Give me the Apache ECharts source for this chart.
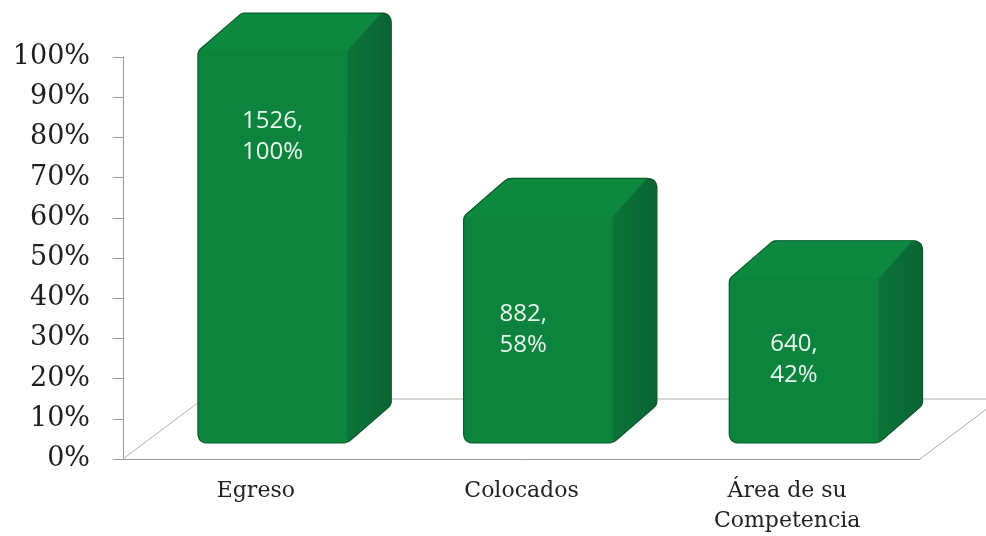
<!DOCTYPE html>
<html><head><meta charset="utf-8">
<script src="https://cdn.jsdelivr.net/npm/echarts@6/dist/echarts.min.js"></script>
<style>html,body{margin:0;padding:0;background:#fff}#c{width:986px;height:536px}</style>
</head><body><div id="c"></div>
<script>
// ---- data ----
const categories = ['Egreso', 'Colocados', 'Área de su\nCompetencia'];
const counts = [1526, 882, 640];
const percents = [100, 57.8, 41.9];
const percentLabels = ['100%', '58%', '42%'];

// ---- styles ----
const labelShift = [[0, -110], [-15, 0], [-10, -1]];
const FRONT = '#0c843e';
const TOP = '#0e8940';
const SIDE_A = '#0b7439';
const SIDE_B = '#096433';
const EDGE = '#0a5a2d';
const DEPTH = [44, -38];
const FLOOR_DEPTH = [80, -60];
const SEG = 8;

function roundPoly(pts, rs) {
  const out = [];
  const n = pts.length;
  for (let k = 0; k < n; k++) {
    const p = pts[k], prev = pts[(k - 1 + n) % n], next = pts[(k + 1) % n];
    const r = rs[k];
    const v1 = [prev[0] - p[0], prev[1] - p[1]], l1 = Math.hypot(v1[0], v1[1]);
    const v2 = [next[0] - p[0], next[1] - p[1]], l2 = Math.hypot(v2[0], v2[1]);
    const r1 = Math.min(r, l1 / 2), r2 = Math.min(r, l2 / 2);
    const a = [p[0] + v1[0] / l1 * r1, p[1] + v1[1] / l1 * r1];
    const b = [p[0] + v2[0] / l2 * r2, p[1] + v2[1] / l2 * r2];
    for (let s = 0; s <= SEG; s++) {
      const t = s / SEG;
      const x = (1 - t) * (1 - t) * a[0] + 2 * (1 - t) * t * p[0] + t * t * b[0];
      const y = (1 - t) * (1 - t) * a[1] + 2 * (1 - t) * t * p[1] + t * t * b[1];
      out.push([x, y]);
    }
  }
  return out;
}

function renderBar(params, api) {
  const i = api.value(0), v = api.value(1);
  const c0 = api.coord([i, 0]), cv = api.coord([i, v]);
  const bw = api.size([1, 0])[0];
  const catLeft = c0[0] - bw / 2;
  const fl = catLeft + bw * 0.282;
  const fr = fl + bw * 0.562;
  const fb = c0[1] - 16;
  const ft = fb + (cv[1] - c0[1]) * 0.975;
  const dx = DEPTH[0], dy = DEPTH[1];
  const A = [fl, fb], B = [fl, ft], C = [fl + dx, ft + dy], D = [fr + dx, ft + dy], E = [fr + dx, fb + dy], F = [fr, fb];
  const rs = [10, 4, 4, 10, 4, 5];
  const sil = roundPoly([A, B, C, D, E, F], rs);
  const per = SEG + 1;
  // side face: D arc, E arc, first half of F arc, then front top-right corner
  const side = sil.slice(3 * per, 5 * per + Math.floor(per / 2) + 1).concat([[fr, ft]]);
  const top = [[fl + 2, ft], [fl + dx, ft + dy], [fr + dx - 8, ft + dy], [fr, ft]];
  const shift = labelShift[i] || [0, 0];
  return {
    type: 'group',
    children: [
      { type: 'polygon', shape: { points: sil }, style: { fill: FRONT, stroke: null } },
      { type: 'polygon', shape: { points: top }, style: { fill: TOP, stroke: null } },
      { type: 'polygon', shape: { points: side }, style: {
          fill: new echarts.graphic.LinearGradient(0, 0, 1, 0, [
            { offset: 0, color: SIDE_A }, { offset: 1, color: SIDE_B }]),
          stroke: null } },
      { type: 'polygon', shape: { points: sil }, style: { fill: null, stroke: EDGE, lineWidth: 1.2 } },
      { type: 'text', style: {
          text: counts[i] + ',\n' + percentLabels[i],
          x: (fl + fr) / 2 + shift[0], y: (ft + fb) / 2 + shift[1],
          align: 'center', verticalAlign: 'middle',
          fill: '#e9f5ec', font: '24px "Open Sans"', lineHeight: 31 } }
    ]
  };
}

function renderFloor(params, api) {
  const cs = params.coordSys;
  const x0 = cs.x, x1 = cs.x + cs.width, yb = cs.y + cs.height;
  const fx = FLOOR_DEPTH[0], fy = FLOOR_DEPTH[1];
  const st = { stroke: '#b0b0b0', lineWidth: 1, fill: null };
  return {
    type: 'group',
    children: [
      { type: 'polyline', shape: { points: [[x0, yb], [x0 + fx, yb + fy], [x1 + fx, yb + fy], [x1, yb]] }, style: st }
    ]
  };
}

const chart = echarts.init(document.getElementById('c'), null, { renderer: 'canvas' });
chart.setOption({
  backgroundColor: '#fff',
  animation: false,
  grid: { left: 123, right: 66, top: 57, bottom: 77, containLabel: false },
  xAxis: {
    type: 'category', data: categories, boundaryGap: true,
    axisLine: { lineStyle: { color: '#999', width: 1 } },
    axisTick: { length: 7, lineStyle: { color: '#999' } },
    axisLabel: { fontFamily: 'DejaVu Serif', fontSize: 22, color: '#222', lineHeight: 30, margin: 17 }
  },
  yAxis: {
    type: 'value', min: 0, max: 100, interval: 10,
    axisLine: { show: true, lineStyle: { color: '#999', width: 1 } },
    axisTick: { show: true, length: 10, lineStyle: { color: '#999' } },
    splitLine: { show: false },
    axisLabel: { formatter: '{value}%', fontFamily: 'DejaVu Serif', fontSize: 27, color: '#1e1e1e', margin: 33 }
  },
  series: [
    { type: 'custom', renderItem: renderFloor, data: [[0, 0]], encode: { x: 0, y: 1 }, z: 1, silent: true, clip: false },
    { type: 'custom', renderItem: renderBar, data: percents.map((p, k) => [k, p]), encode: { x: 0, y: 1 }, z: 5, clip: false }
  ]
});
</script>
</body></html>
